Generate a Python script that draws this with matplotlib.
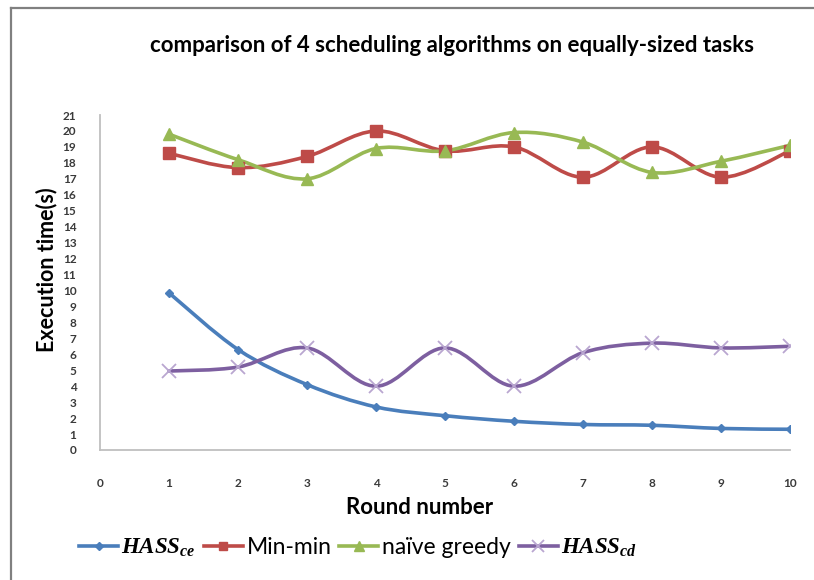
import matplotlib
matplotlib.use("Agg")
import matplotlib.pyplot as plt
from matplotlib.path import Path
from matplotlib.patches import PathPatch
from matplotlib.lines import Line2D
import numpy as np

rounds = [1, 2, 3, 4, 5, 6, 7, 8, 9, 10]
hass_ce = [9.85, 6.3, 4.1, 2.7, 2.15, 1.8, 1.6, 1.55, 1.35, 1.3]
min_min = [18.6, 17.7, 18.4, 20.0, 18.75, 19.0, 17.1, 19.0, 17.1, 18.75]
naive_greedy = [19.8, 18.2, 17.0, 18.9, 18.75, 19.9, 19.3, 17.4, 18.1, 19.1]
hass_cd = [4.95, 5.2, 6.4, 4.0, 6.4, 4.0, 6.1, 6.7, 6.4, 6.5]

x_ticks = list(range(0, 11))
y_ticks = list(range(0, 22))

title = "comparison of 4 scheduling algorithms on equally-sized tasks"
xlabel = "Round number"
ylabel = "Execution time(s)"
labels = [r"$HASS_{ce}$", "Min-min", "naïve greedy", r"$HASS_{cd}$"]

plt.rcParams['font.family'] = ['Lato', 'DejaVu Sans']
plt.rcParams['mathtext.fontset'] = 'custom'
plt.rcParams['mathtext.it'] = 'Liberation Serif:italic:bold'
plt.rcParams['mathtext.rm'] = 'Liberation Serif:bold'

W, H = 814, 580
fig = plt.figure(figsize=(W / 100, H / 100), dpi=100)
ax = fig.add_axes([100 / W, 1 - 450 / H, 690 / W, 335 / H])


def smooth_path(xs, ys):
    pts = np.column_stack([xs, ys]).astype(float)
    n = len(pts)
    verts = [pts[0]]
    codes = [Path.MOVETO]
    for i in range(n - 1):
        p0 = pts[i - 1] if i > 0 else pts[i]
        p1 = pts[i]
        p2 = pts[i + 1]
        p3 = pts[i + 2] if i + 2 < n else pts[i + 1]
        c1 = p1 + (p2 - p0) / 6.0
        c2 = p2 - (p3 - p1) / 6.0
        verts += [c1, c2, p2]
        codes += [Path.CURVE4] * 3
    return Path(verts, codes)


series = [
    (hass_ce, '#4a7ebb', 'D', 4.5, '#4a7ebb', 1),
    (min_min, '#be4b48', 's', 8, '#be4b48', 1),
    (naive_greedy, '#98b954', '^', 8.5, '#98b954', 1),
    (hass_cd, '#7d5fa0', 'x', 10, '#b9a6d0', 1.3),
]

handles = []
for ys, col, mk, ms, mcol, mew in series:
    patch = PathPatch(smooth_path(rounds, ys), facecolor='none', edgecolor=col,
                      lw=2.6, transform=ax.transData, capstyle='round', joinstyle='round')
    ax.add_patch(patch)
    ax.plot(rounds, ys, linestyle='none', marker=mk, ms=ms, color=mcol,
            mec=mcol, mew=mew, zorder=3)
    handles.append(Line2D([], [], color=col, lw=2.6, marker=mk, ms=ms * 0.8,
                          mfc=mcol, mec=mcol, mew=mew))

ax.set_xlim(0, 10)
ax.set_ylim(0, 21)
ax.set_xticks(x_ticks)
ax.set_yticks(y_ticks)
ax.tick_params(length=0, labelsize=8.5, labelcolor='#3a3a3a')
ax.tick_params(axis='y', pad=17)
ax.tick_params(axis='x', pad=20)
for lab in ax.get_xticklabels() + ax.get_yticklabels():
    lab.set_fontweight('bold')
for s in ['top', 'right']:
    ax.spines[s].set_visible(False)
for s in ['left', 'bottom']:
    ax.spines[s].set_color('#bfbfbf')
    ax.spines[s].set_linewidth(1.3)

fig.text(452 / W, 1 - 45 / H, title, ha='center', va='center',
         fontsize=16, fontweight='bold', color='black')
fig.text(420 / W, 1 - 507 / H, xlabel, ha='center', va='center',
         fontsize=16, fontweight='bold', color='black')
fig.text(47 / W, 1 - 270 / H, ylabel, ha='center', va='center', rotation=90,
         fontsize=15.5, fontweight='bold', color='black')

fig.legend(handles, labels, loc='center', bbox_to_anchor=(358 / W, 1 - 548 / H),
           ncol=4, frameon=False, fontsize=16.5, handlelength=1.7,
           handletextpad=0.15, columnspacing=0.35)

# outer chart border
fig.add_artist(Line2D([11 / W, 11 / W], [0, 1 - 8 / H], transform=fig.transFigure,
                      color='#808080', lw=1.6))
fig.add_artist(Line2D([11 / W, 1], [1 - 8 / H, 1 - 8 / H], transform=fig.transFigure,
                      color='#808080', lw=1.6))

fig.savefig('out.png', dpi=100)
